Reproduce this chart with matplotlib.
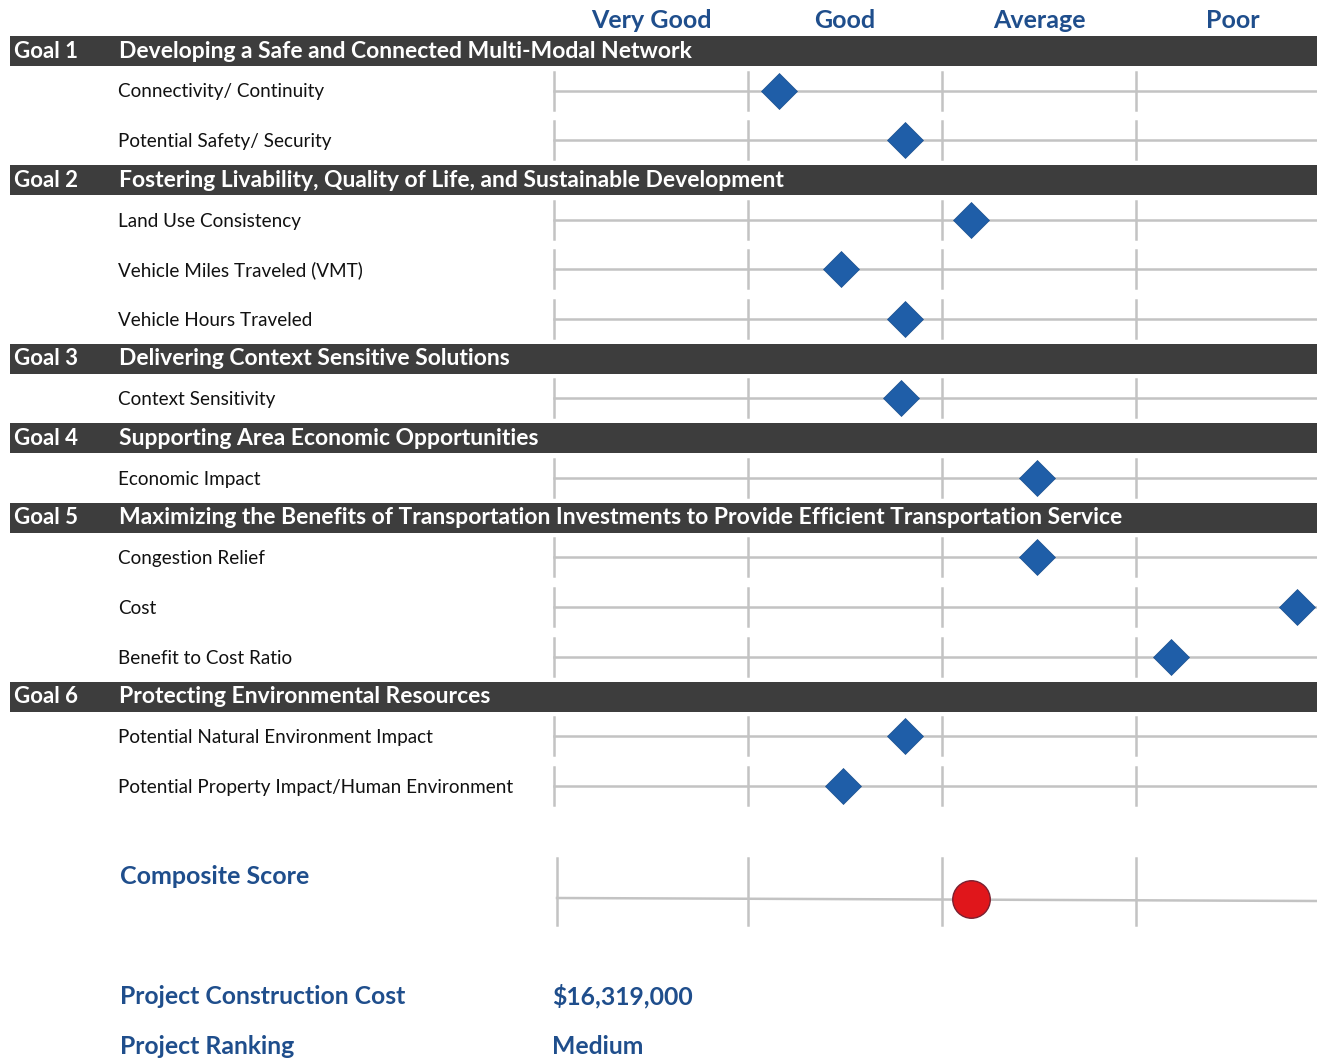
import matplotlib
matplotlib.use("Agg")
import matplotlib.pyplot as plt
from matplotlib.patches import Rectangle

plt.rcParams['font.family'] = ['Lato', 'DejaVu Sans']

# rating bins (score axis: 0-1 Very Good, 1-2 Good, 2-3 Average, 3-4 Poor)
ratings = ["Very Good", "Good", "Average", "Poor"]

goal_ids = ["Goal 1", "Goal 2", "Goal 3", "Goal 4", "Goal 5", "Goal 6"]
goal_titles = [
    "Developing a Safe and Connected Multi-Modal Network",
    "Fostering Livability, Quality of Life, and Sustainable Development",
    "Delivering Context Sensitive Solutions",
    "Supporting Area Economic Opportunities",
    "Maximizing the Benefits of Transportation Investments to Provide Efficient Transportation Service",
    "Protecting Environmental Resources",
]
criteria = [
    ["Connectivity/ Continuity", "Potential Safety/ Security"],
    ["Land Use Consistency", "Vehicle Miles Traveled (VMT)", "Vehicle Hours Traveled"],
    ["Context Sensitivity"],
    ["Economic Impact"],
    ["Congestion Relief", "Cost", "Benefit to Cost Ratio"],
    ["Potential Natural Environment Impact", "Potential Property Impact/Human Environment"],
]
scores = [
    [1.16, 1.81],
    [2.15, 1.48, 1.81],
    [1.79],
    [2.49],
    [2.49, 3.83, 3.18],
    [1.81, 1.49],
]
composite_score = 2.15
construction_cost = "$16,319,000"
project_ranking = "Medium"

W, H = 1317, 1062
fig = plt.figure(figsize=(W / 100, H / 100), dpi=100)
ax = fig.add_axes([0, 0, 1, 1])
unit = 194.0
x0 = 554.0
ax.set_xlim(-x0 / unit, (W - x0) / unit)
ax.set_ylim(H, 0)
ax.axis('off')


def px(x):
    # pixel -> score units (for layout text only)
    return (x - x0) / unit


blue = '#1f4e8c'
line_c = '#c3c3c3'
bar_c = '#3d3d3d'
diamond_c = '#1f5ea8'

for i, r in enumerate(ratings):
    ax.text(i + 0.5, 20, r, ha='center', va='center', fontsize=18,
            fontweight='bold', color=blue)


def score_row(y, s, tick_h=19):
    ax.plot([0, px(W)], [y, y], color=line_c, lw=1.8, zorder=1)
    for t in range(4):
        ax.plot([t, t], [y - tick_h, y + tick_h], color=line_c, lw=1.8, zorder=1)
    ax.plot([s], [y], marker='D', ms=18, color=diamond_c,
            markeredgecolor='#1a4f8e', markeredgewidth=0.5, zorder=3)


y = 51
for g in range(len(goal_ids)):
    ax.add_patch(Rectangle((px(10), y - 15), px(W) - px(10), 30,
                           facecolor=bar_c, edgecolor='none', zorder=0))
    ax.text(px(14), y, goal_ids[g], ha='left', va='center', fontsize=16,
            fontweight='bold', color='white')
    ax.text(px(119), y, goal_titles[g], ha='left', va='center', fontsize=16.5,
            fontweight='bold', color='white')
    y += 39.5
    for k, (name, s) in enumerate(zip(criteria[g], scores[g])):
        ax.text(px(118), y + 1.5, name, ha='left', va='center', fontsize=13.6,
                color='#111111')
        score_row(y, s)
        y += 49.6
    y -= 49.6 - 40

# composite
ax.text(px(120), 877, "Composite Score", ha='left', va='center', fontsize=18,
        fontweight='bold', color=blue)
ax.plot([px(557), px(W)], [898, 901], color=line_c, lw=1.8, zorder=1)
for t in range(4):
    tx = px(557) if t == 0 else t
    ax.plot([tx, tx], [858, 925], color=line_c, lw=1.8, zorder=1)
ax.plot([composite_score], [899], marker='o', ms=27, color='#e0161b',
        markeredgecolor='#7a2030', markeredgewidth=1.0, zorder=3)

ax.text(px(120), 996, "Project Construction Cost", ha='left', va='center',
        fontsize=17.8, fontweight='bold', color=blue)
ax.text(px(552), 996, construction_cost, ha='left', va='center',
        fontsize=17.8, fontweight='bold', color=blue)
ax.text(px(120), 1047, "Project Ranking", ha='left', va='center',
        fontsize=17.8, fontweight='bold', color=blue)
ax.text(px(552), 1047, project_ranking, ha='left', va='center',
        fontsize=17.8, fontweight='bold', color=blue)

fig.savefig('out.png', dpi=100, facecolor='white')
